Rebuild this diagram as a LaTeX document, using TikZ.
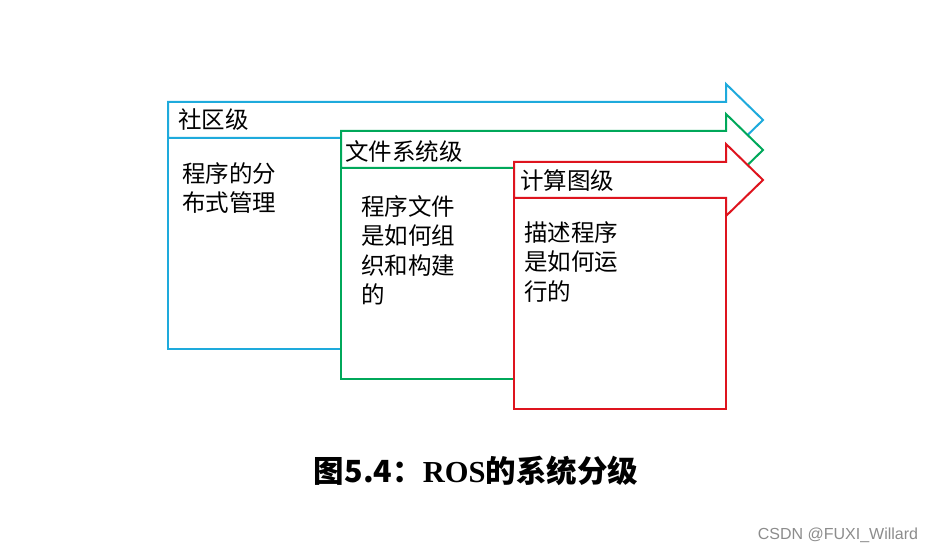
\documentclass[tikz,border=0pt]{standalone}
\usepackage{fontspec}
\newfontfamily\cjk{Noto Sans CJK SC}
\newfontfamily\rosfont{Liberation Serif}
\newfontfamily\wmfont{Liberation Sans}
\definecolor{cblue}{RGB}{30,170,220}
\definecolor{cgreen}{RGB}{0,168,90}
\definecolor{cred}{RGB}{222,20,30}
\tikzset{
  shapeline/.style={line width=2pt, fill=white, line join=miter},
  head/.style={anchor=west, inner sep=0pt, font=\cjk\fontsize{23.5}{30}\selectfont},
  body/.style={anchor=north west, inner sep=0pt, align=left, font=\cjk\fontsize{23.5}{29.5}\selectfont},
}
\begin{document}
\begin{tikzpicture}[x=1pt,y=-1pt]
\useasboundingbox (0,0) rectangle (934,553);
% blue level
\draw[shapeline, draw=cblue] (168,138) -- (168,102) -- (726,102) -- (726,84) -- (763,120) -- (726,156) -- (726,138) -- cycle;
\draw[shapeline, draw=cblue] (168,138) rectangle (341,349);
% green level
\draw[shapeline, draw=cgreen] (341,168) -- (341,131) -- (726,131) -- (726,114) -- (763,150) -- (726,186) -- (726,168) -- cycle;
\draw[shapeline, draw=cgreen] (341,168) rectangle (514,379);
% red level
\draw[shapeline, draw=cred] (514,198) -- (514,162) -- (726,162) -- (726,144) -- (763,180) -- (726,216) -- (726,198) -- cycle;
\draw[shapeline, draw=cred] (514,198) rectangle (726,409);
% texts
\node[head] (h1) at (178,120) {社区级};
\node[body] (b1) at (182,162) {程序的分\\布式管理};
\node[head] (h2) at (345,152) {文件系统级};
\node[body] (b2) at (361,195) {程序文件\\是如何组\\织和构建\\的};
\node[head] (h3) at (520,181) {计算图级};
\node[body] (b3) at (524,221) {描述程序\\是如何运\\行的};
\node[inner sep=0pt] (cap) at (476,471) {\cjk\bfseries\fontsize{30.5}{34}\selectfont 图5.4：{\rosfont\bfseries ROS}的系统分级};
\node[inner sep=0pt, text=black!45] (wm) at (838,535) {\wmfont\fontsize{16}{18}\selectfont CSDN @FUXI\_Willard};
\end{tikzpicture}
\end{document}
